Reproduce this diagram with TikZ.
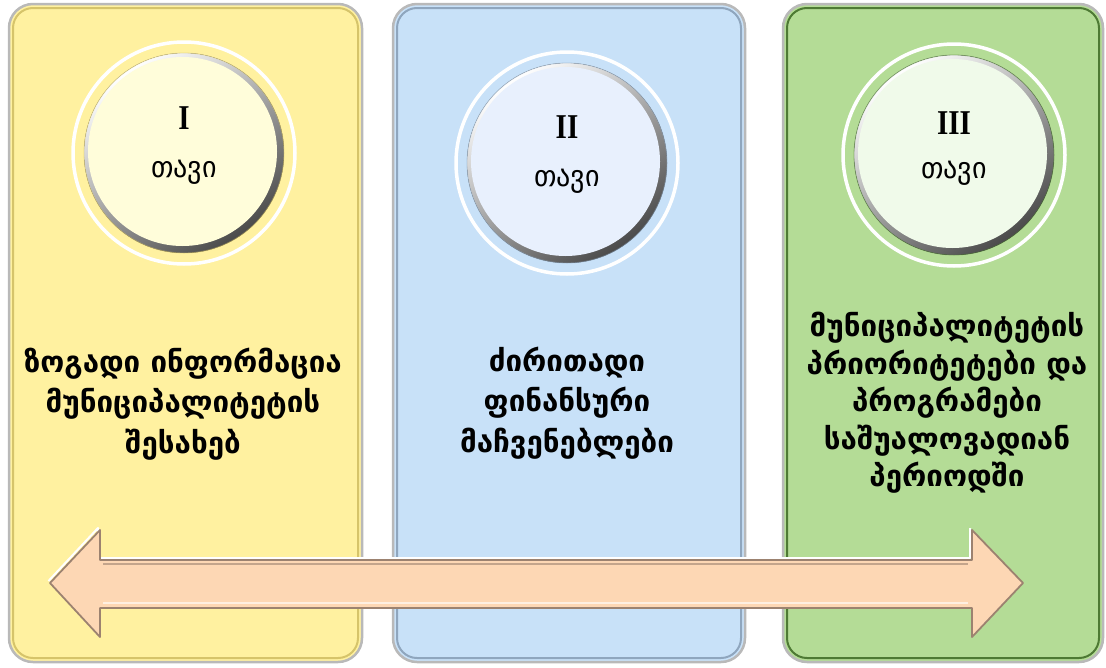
\documentclass[tikz,border=0pt]{standalone}
\usepackage{fontspec}
\setmainfont{DejaVu Sans}
\newfontfamily\geo{DejaVu Sans}
\newfontfamily\rom{Liberation Serif}
\definecolor{panY}{HTML}{FFF1A0}
\definecolor{panB}{HTML}{C8E1F8}
\definecolor{panG}{HTML}{B4DC96}
\definecolor{discY}{HTML}{FFFDDA}
\definecolor{discB}{HTML}{E8F0FD}
\definecolor{discG}{HTML}{F0FAEA}
\definecolor{edgeY}{HTML}{D6C46A}
\definecolor{edgeB}{HTML}{8FA6BE}
\definecolor{edgeG}{HTML}{4E7A34}
\definecolor{rimc}{HTML}{4A4A4A}
\definecolor{peach}{HTML}{FDD7B4}
\definecolor{peachedge}{HTML}{9C8270}
\tikzset{
  panel/.style={rounded corners=24pt, fill=#1, draw=gray!55, line width=2.5pt},
  panelin/.style={rounded corners=20pt, draw=#1, line width=2pt},
  ring/.style={draw=white, line width=3.5pt},
  ptext/.style={align=center, inner sep=0pt, font=\geo\bfseries\fontsize{29.5}{40.5}\selectfont},
  gtext/.style={align=center, inner sep=0pt, font=\geo\bfseries\fontsize{29.5}{37.5}\selectfont},
  numtext/.style={inner sep=0pt, font=\rom\bfseries\fontsize{29}{30}\selectfont},
  tavtext/.style={inner sep=0pt, font=\geo\fontsize{28}{30}\selectfont},
}
\newcommand{\chapdisc}[3]{%
  \fill[shading=axis, top color=white, bottom color=rimc, shading angle=35] #1 circle[radius=100pt];
  \fill[#2] #1 ++(-1.5pt,1.5pt) circle[radius=94.5pt];
  \draw[#3, line width=0.8pt, opacity=0.5] #1 circle[radius=100pt];
}
\begin{document}
\begin{tikzpicture}[x=1pt, y=-1pt]
\useasboundingbox (0,0) rectangle (1106,667);
% panels
\draw[panel=panY] (9,4) rectangle (362,662);
\draw[panelin=edgeY] (13,8) rectangle (358,658);
\draw[panel=panB] (393,4) rectangle (745,662);
\draw[panelin=edgeB] (397,8) rectangle (741,658);
\draw[panel=panG] (783,4) rectangle (1103,662);
\draw[panelin=edgeG] (787,8) rectangle (1099,658);
% rings and discs
\draw[ring] (184,153) circle[radius=111pt];
\chapdisc{(184,153)}{discY}{edgeY}
\draw[ring] (567,163) circle[radius=111pt];
\chapdisc{(567,163)}{discB}{edgeB}
\draw[ring] (954,155) circle[radius=111pt];
\chapdisc{(954,155)}{discG}{edgeG}
% disc labels
\node[numtext] (nI) at (184,118) {\scalebox{1}[1.2]{I}};
\node[tavtext] (tI) at (184,172) {\scalebox{1}[1.05]{თავი}};
\node[numtext] (nII) at (567,127) {\scalebox{1}[1.2]{II}};
\node[tavtext] (tII) at (567,181) {\scalebox{1}[1.05]{თავი}};
\node[numtext] (nIII) at (954,123) {\scalebox{1}[1.2]{III}};
\node[tavtext] (tIII) at (954,173) {\scalebox{1}[1.05]{თავი}};
% panel texts
\node[ptext] (pY) at (183,404) {ზოგადი ინფორმაცია\\მუნიციპალიტეტის\\შესახებ};
\node[ptext] (pB) at (567,403) {ძირითადი\\ფინანსური\\მაჩვენებლები};
\node[gtext] (pG) at (947,403) {მუნიციპალიტეტის\\პრიორიტეტები და\\პროგრამები\\საშუალოვადიან\\პერიოდში};
% double arrow
\coordinate (aL) at (50,583);
\coordinate (aR) at (1023,583);
\draw[white, line width=2pt, line join=round] ([shift={(-1.5,-2)}]aL) -- (98,528) -- (98,558) -- (970,558) -- (970,528);
\filldraw[fill=peach, draw=peachedge, line width=1.8pt, line join=round]
  (aL) -- (100,530) -- (100,560) -- (972,560) -- (972,530) -- (aR) -- (972,637) -- (972,608) -- (100,608) -- (100,637) -- cycle;
\draw[peachedge!60!peach, line width=1.5pt] (103,564) -- (968,564);
\draw[white!60!peach, line width=1.5pt] (103,603) -- (968,603);
\end{tikzpicture}
\end{document}
